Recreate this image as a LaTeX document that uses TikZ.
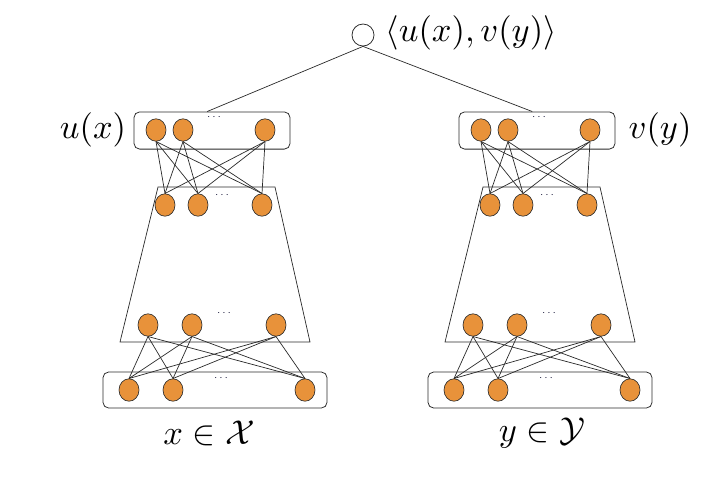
\documentclass[tikz,border=0pt]{standalone}
\usepackage{amsmath}
\usepackage{xcolor}
\usepackage{tikz}
\usetikzlibrary{shapes.geometric}
\definecolor{norange}{HTML}{E8923A}
\definecolor{ngrey}{HTML}{2A2A2A}

\begin{document}
\begin{tikzpicture}[x=0.025cm,y=-0.025cm,
  neuron/.style={ellipse,draw=ngrey,fill=norange,line width=0.45pt,minimum width=0.5cm,minimum height=0.56cm,inner sep=0pt},
  layerbox/.style={draw=ngrey,rounded corners=4pt,line width=0.55pt,inner sep=0pt},
  dots/.style={font=\scriptsize,text=black!85!blue,inner sep=0pt},
  big/.style={scale=2.45,inner sep=0.5pt},
  wire/.style={draw=ngrey,line width=0.5pt}]
  \useasboundingbox (0,0) rectangle (720,483);
  % output unit
  \node[circle,draw=ngrey,fill=white,line width=0.55pt,minimum size=0.55cm,inner sep=0pt] (out) at (363,35) {};
  \node[big,anchor=west] (outlbl) at (383,33) {$\langle u(x), v(y)\rangle$};
  % two towers, the right one shifted
  \foreach \t/\dx in {l/0,r/325} {
    \begin{scope}[xshift=\dx*0.025cm]
      \node[layerbox,minimum width=3.9cm,minimum height=0.93cm] (\t-top) at (212,130.5) {};
      \node[layerbox,minimum width=5.6cm,minimum height=0.9cm] (\t-in) at (215,390) {};
      \draw[wire] (158,187) -- (275,187) -- (310,342) -- (120,342) -- cycle;
      \node[neuron] (\t-a1) at (156,130) {};
      \node[neuron] (\t-a2) at (183,130) {};
      \node[neuron] (\t-a3) at (265,130) {};
      \node[neuron] (\t-b1) at (165,205) {};
      \node[neuron] (\t-b2) at (198,205) {};
      \node[neuron] (\t-b3) at (262,205) {};
      \node[neuron] (\t-c1) at (148,325) {};
      \node[neuron] (\t-c2) at (192,325) {};
      \node[neuron] (\t-c3) at (276,325) {};
      \node[neuron] (\t-d1) at (129,390) {};
      \node[neuron] (\t-d2) at (173,390) {};
      \node[neuron] (\t-d3) at (305,390) {};
      \node[dots] (\t-da) at (215,117) {$\cdots$};
      \node[dots] (\t-db) at (223,195) {$\cdots$};
      \node[dots] (\t-dc) at (225,313) {$\cdots$};
      \node[dots] (\t-dd) at (222,378) {$\cdots$};
      \foreach \i in {1,2,3} {
        \foreach \j in {1,2,3} {
          \draw[wire] (\t-a\i.south) -- (\t-b\j.north);
          \draw[wire] (\t-c\i.south) -- (\t-d\j.north);
        }
      }
      \draw[wire] (out.south) -- ([xshift=-0.12cm]\t-top.north);
    \end{scope}
  }
  % labels
  \node[big] (ulbl) at (93,130) {$u(x)$};
  \node[big] (vlbl) at (660,130) {$v(y)$};
  \node[big] (xlbl) at (209,433) {$x \in \mathcal{X}$};
  \node[big] (ylbl) at (542,433) {$y \in \mathcal{Y}$};
\end{tikzpicture}
\end{document}
